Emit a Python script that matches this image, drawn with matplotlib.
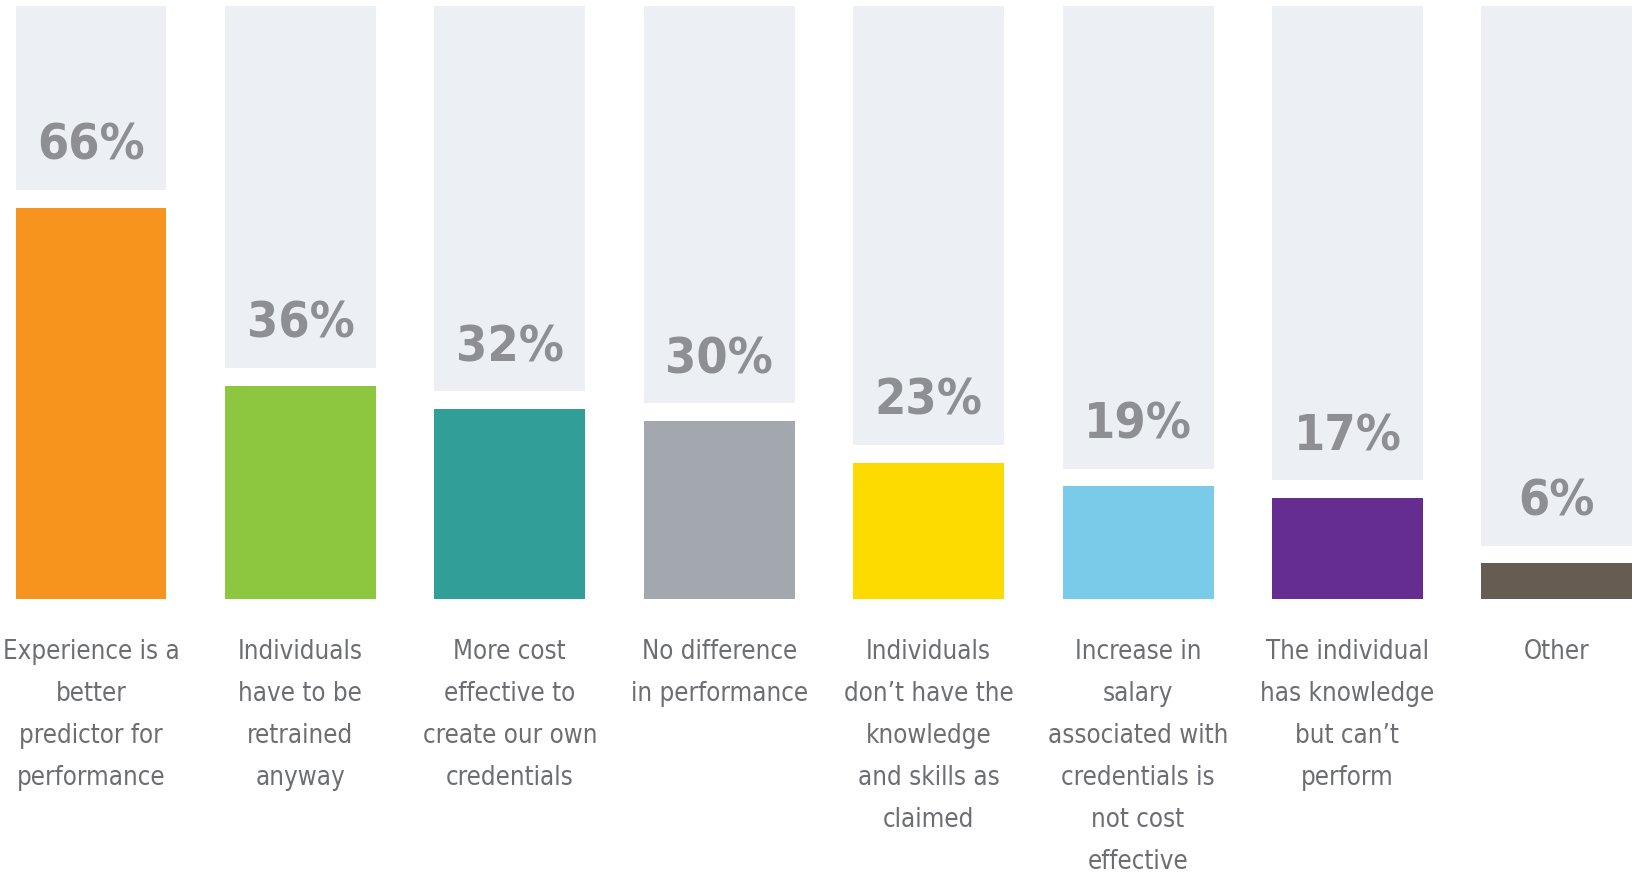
import matplotlib
matplotlib.use("Agg")
import matplotlib.pyplot as plt
from matplotlib import font_manager
from matplotlib.font_manager import FontProperties

# ── data ──
categorias = [
    "Experience is a\nbetter\npredictor for\nperformance",
    "Individuals\nhave to be\nretrained\nanyway",
    "More cost\neffective to\ncreate our own\ncredentials",
    "No difference\nin performance",
    "Individuals\ndon\u2019t have the\nknowledge\nand skills as\nclaimed",
    "Increase in\nsalary\nassociated with\ncredentials is\nnot cost\neffective",
    "The individual\nhas knowledge\nbut can\u2019t\nperform",
    "Other",
]
valores = [66, 36, 32, 30, 23, 19, 17, 6]
colores = ["#F7941D", "#8DC63F", "#329E98", "#A2A8AE",
           "#FDDA00", "#7ACAE9", "#662D91", "#665C51"]

FONDO = "#ECEFF4"
GRIS_PCT = "#8D8F93"
GRIS_TXT = "#6D6E72"
HUECO = 3.0


def fuente_estrecha(negrita):
    """Busca una fuente condensada instalada; si no hay, DejaVu Sans."""
    for f in font_manager.fontManager.ttflist:
        estrecha = (f.stretch in ("condensed", "semi-condensed")
                    or "Condensed" in f.fname or "Narrow" in f.fname)
        if not estrecha or f.style != "normal":
            continue
        if negrita and f.weight >= 700:
            return FontProperties(fname=f.fname)
        if not negrita and f.weight <= 400 and "Light" not in f.fname:
            return FontProperties(fname=f.fname)
    return FontProperties(family="DejaVu Sans", weight="bold" if negrita else "normal")


fp_pct = fuente_estrecha(True)
fp_txt = fuente_estrecha(False)

fig = plt.figure(figsize=(16.32, 8.76), dpi=100)
ax = fig.add_axes([0, 0, 1, 1])
ax.set_xlim(-0.4346, 7.359)
ax.set_ylim(-46.7, 101.0)
ax.axis("off")

x = list(range(len(valores)))
ancho = 0.721

# barra de fondo gris (desde valor+hueco hasta 100)
ax.bar(x, [100 - v - HUECO for v in valores], bottom=[v + HUECO for v in valores],
       width=ancho, color=FONDO, linewidth=0)
# barra de valor
ax.bar(x, valores, width=ancho, color=colores, linewidth=0)

for xi, v, cat in zip(x, valores, categorias):
    ax.text(xi, v + HUECO + 7.4, f"{v}%", ha="center", va="center",
            fontproperties=fp_pct, fontsize=36, color=GRIS_PCT)
    ax.text(xi, -6.7, cat, ha="center", va="top", fontproperties=fp_txt,
            fontsize=18.5, color=GRIS_TXT, linespacing=1.80)

fig.savefig("out.png", dpi=100)
